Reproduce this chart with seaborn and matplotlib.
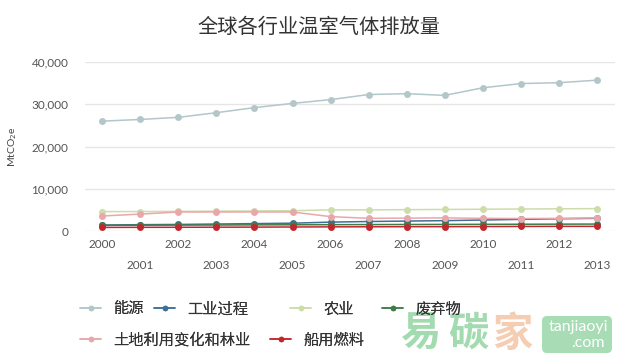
import matplotlib
matplotlib.use("Agg")
import matplotlib.pyplot as plt
from matplotlib.lines import Line2D
from matplotlib.patches import FancyBboxPatch
from matplotlib.ticker import FuncFormatter
import seaborn as sns
import pandas as pd

years = list(range(2000, 2014))
energy = [26000, 26400, 26900, 28000, 29200, 30200, 31100, 32300, 32500, 32100, 33900, 34900, 35100, 35700]
industry = [1400, 1500, 1550, 1650, 1750, 1850, 2100, 2250, 2350, 2450, 2600, 2750, 2900, 3000]
agriculture = [4600, 4600, 4650, 4700, 4750, 4800, 5000, 5000, 5050, 5100, 5150, 5200, 5250, 5300]
waste = [1350, 1380, 1400, 1420, 1450, 1470, 1500, 1520, 1540, 1560, 1580, 1600, 1620, 1640]
landuse = [3550, 4000, 4500, 4500, 4500, 4500, 3400, 3000, 3050, 3100, 3000, 2950, 3000, 3100]
bunker = [850, 870, 880, 900, 920, 950, 980, 1000, 1020, 1030, 1050, 1080, 1100, 1100]

series_names = ["能源", "工业过程", "农业", "废弃物", "土地利用变化和林业", "船用燃料"]
series_vals = [energy, industry, agriculture, waste, landuse, bunker]
colors = ["#b3c6ca", "#3e6f99", "#cddcab", "#3f7c4a", "#eaa7ab", "#c2272d"]

rows = []
for name, vals in zip(series_names, series_vals):
    for i, (y, v) in enumerate(zip(years, vals)):
        rows.append({"idx": i, "year": y, "value": v, "sector": name})
df = pd.DataFrame(rows)

sns.set_theme(style="white")
plt.rcParams["font.family"] = ["Lato", "Noto Sans CJK SC", "DejaVu Sans"]

fig = plt.figure(figsize=(6.2, 3.64), dpi=100)
ax = fig.add_axes([85 / 620, 1 - 231 / 364, (615 - 85) / 620, (231 - 62) / 364])

sns.lineplot(data=df, x="idx", y="value", hue="sector", hue_order=series_names,
             palette=dict(zip(series_names, colors)), marker="o", markersize=5,
             markeredgewidth=0, linewidth=1.1, legend=False, ax=ax, clip_on=False)

ax.set_xlim(-0.45, 13.47)
ax.set_ylim(0, 40000)
ax.set_yticks([0, 10000, 20000, 30000, 40000])
ax.yaxis.set_major_formatter(FuncFormatter(lambda v, p: f"{int(v):,}"))
ax.grid(axis="y", color="#e6e6e6", linewidth=1)
ax.grid(axis="x", visible=False)
for s in ax.spines.values():
    s.set_visible(False)

even = [i for i in range(len(years)) if i % 2 == 0]
odd = [i for i in range(len(years)) if i % 2 == 1]
ax.set_xticks(even)
ax.set_xticklabels([str(years[i]) for i in even])
ax.set_xticks(odd, minor=True)
ax.set_xticklabels([str(years[i]) for i in odd], minor=True)
ax.tick_params(axis="x", which="major", length=0, pad=6, labelsize=8.5, labelcolor="#555555")
ax.tick_params(axis="x", which="minor", length=0, pad=21, labelsize=8.5, labelcolor="#555555")
ax.tick_params(axis="y", length=0, pad=12, labelsize=8.5, labelcolor="#555555")
ax.set_xlabel("")
ax.set_ylabel("MtCO$_2$e", fontsize=7.5, color="#444444", labelpad=12)
ax.yaxis.set_label_coords(-0.125, 0.5)

fig.text(0.515, 1 - 27 / 364, "全球各行业温室气体排放量", ha="center", va="center",
         fontsize=14.6, color="#333333", family=["Noto Sans CJK SC", "DejaVu Sans"])

# source watermark (drawn beneath the legend)
wm_font = ["Noto Sans CJK SC", "DejaVu Sans"]
for cx, ch, col in [(420, "易", "#a3dbb0"), (468, "碳", "#a3dbb0"), (512, "家", "#f5cdb2")]:
    fig.text(cx, 364 - 334, ch, ha="center", va="center", fontsize=29, color=col,
             family=wm_font, fontweight="bold", transform=None, zorder=0)
box = FancyBboxPatch((542, 364 - 353), 70, 37, boxstyle="round,pad=0,rounding_size=5",
                     transform=None, facecolor="#a8dcb5", edgecolor="none", zorder=0)
fig.add_artist(box)
fig.text(578, 364 - 327, "tanjiaoyi", ha="center", va="center", fontsize=11.5,
         color="white", transform=None, zorder=1)
fig.text(588, 364 - 343, ".com", ha="center", va="center", fontsize=11.5,
         color="white", transform=None, zorder=1)

# legend entries placed like the reference (flow layout)
pos = [(80, 309), (154, 309), (290, 309), (382, 309), (80, 340), (270, 340)]
for (x, y), name, c in zip(pos, series_names, colors):
    h = Line2D([], [], color=c, marker="o", markersize=4, markeredgewidth=0, linewidth=1.1)
    leg = fig.legend([h], [name], loc="center left", bbox_to_anchor=(x / 620, 1 - y / 364),
                     frameon=False, handlelength=1.4, handletextpad=0.8, borderpad=0,
                     borderaxespad=0, prop={"family": ["Noto Sans CJK SC", "DejaVu Sans"], "size": 11})
    for t in leg.get_texts():
        t.set_color("#333333")
    leg.set_zorder(5)
    fig.add_artist(leg)

fig.savefig("out.png", dpi=100)
